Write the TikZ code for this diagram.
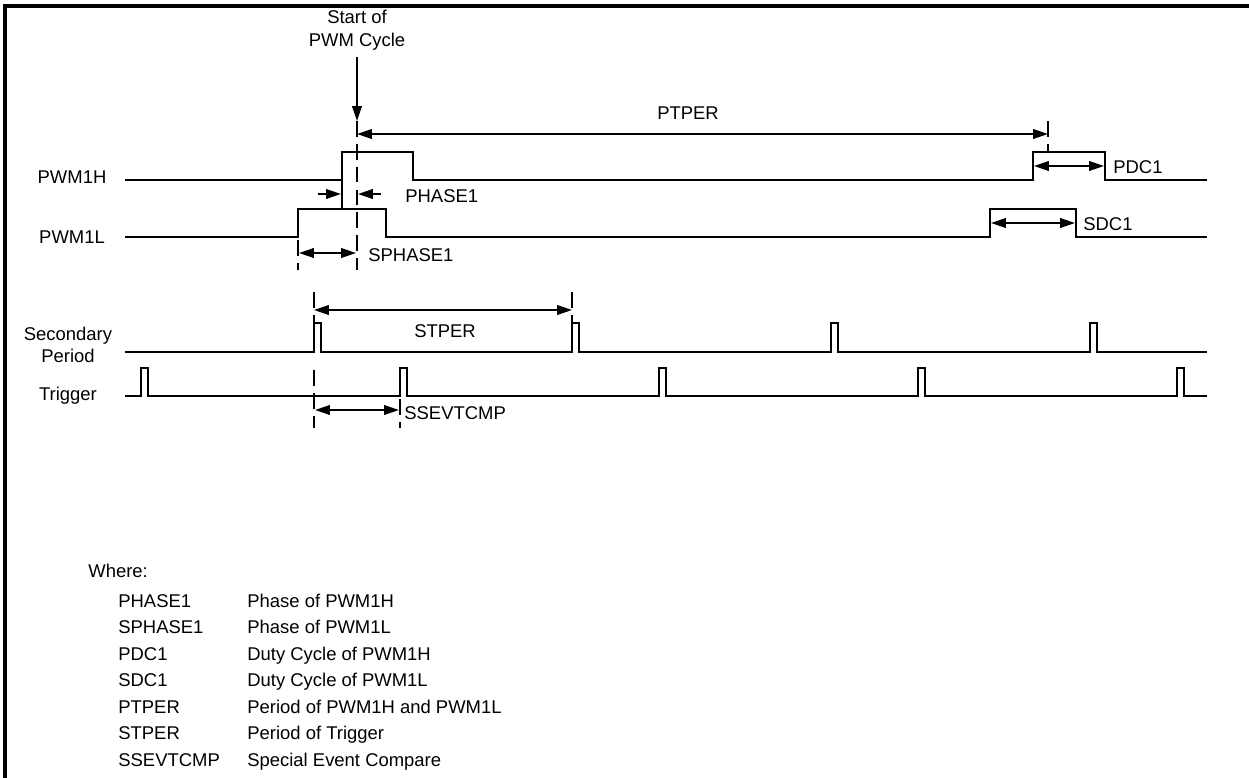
\documentclass[tikz,border=0pt]{standalone}
\usepackage{fontspec}
\setmainfont{Liberation Sans}
\usetikzlibrary{arrows.meta}
\begin{document}
\begin{tikzpicture}[x=0.02cm,y=-0.02cm,
  sig/.style={line width=1.5pt, line join=miter},
  dim/.style={line width=1pt, {Triangle[length=8.5pt,width=5.5pt]}-{Triangle[length=8.5pt,width=5.5pt]}},
  dimr/.style={line width=1pt, -{Triangle[length=8.5pt,width=5.5pt]}},
  guide/.style={line width=1pt, dash pattern=on 9pt off 4pt},
  lbl/.style={font=\fontsize{10.5pt}{12.8pt}\selectfont, inner sep=0pt},
]
\useasboundingbox (0,0) rectangle (1249,778);
\draw[line width=2pt] (1249,6) -- (5,6) -- (5,778);

% Start of PWM cycle
\node[lbl, align=center] (start) at (357,30) {Start of\\PWM Cycle};
\coordinate (st0) at (357,57);
\coordinate (st1) at (357,121);
\draw[dimr] (st0) -- (st1);

% PTPER
\coordinate (pt1) at (357,134);
\coordinate (pt2) at (1048,134);
\draw[dim] (pt1) -- (pt2);
\node[lbl] (ptper) at (688,113) {PTPER};
\draw[guide] (357,121) -- (357,270);
\draw[guide] (1048,121) -- (1048,152);

% PWM1H
\node[lbl] (h) at (72,177) {PWM1H};
\draw[sig] (125,180) -- (342,180) -- (342,152) -- (413,152) -- (413,180) -- (1033,180) -- (1033,152) -- (1105,152) -- (1105,180) -- (1207,180);
\draw[line width=1pt] (342,180) -- (342,209);

% PHASE1
\coordinate (ph1a) at (318,194);
\coordinate (ph1b) at (341,194);
\coordinate (ph2a) at (381,194);
\coordinate (ph2b) at (358,194);
\draw[dimr] (ph1a) -- (ph1b);
\draw[dimr] (ph2a) -- (ph2b);
\node[lbl, anchor=west] (phase) at (405,196) {PHASE1};

% PDC1
\coordinate (pd1) at (1034,166);
\coordinate (pd2) at (1104,166);
\draw[dim] (pd1) -- (pd2);
\node[lbl, anchor=west] (pdc) at (1113,167) {PDC1};

% PWM1L
\node[lbl] (l) at (72,237) {PWM1L};
\draw[sig] (125,237) -- (298,237) -- (298,209) -- (386,209) -- (386,237) -- (990,237) -- (990,209) -- (1076,209) -- (1076,237) -- (1207,237);

% SDC1
\coordinate (sd1) at (991,223);
\coordinate (sd2) at (1075,223);
\draw[dim] (sd1) -- (sd2);
\node[lbl, anchor=west] (sdc) at (1083,224) {SDC1};

% SPHASE1
\draw[guide] (298,240) -- (298,270);
\coordinate (sp1) at (299,253);
\coordinate (sp2) at (356,253);
\draw[dim] (sp1) -- (sp2);
\node[lbl, anchor=west] (sphase) at (368,255) {SPHASE1};

% STPER
\draw[guide] (314,292) -- (314,322);
\draw[guide] (572,292) -- (572,322);
\coordinate (stp1) at (314,310);
\coordinate (stp2) at (572,310);
\draw[dim] (stp1) -- (stp2);
\node[lbl] (stper) at (445,331) {STPER};

% Secondary Period
\node[lbl, align=center] (sec) at (68,345) {Secondary\\Period};
\draw[sig] (125,352) foreach \p in {314,572,831,1090} { -- (\p,352) -- (\p,323) -- (\p+7,323) -- (\p+7,352) } -- (1207,352);

% Trigger
\node[lbl] (trg) at (68,396) {Trigger};
\draw[sig] (125,396) foreach \p in {141,400,659,918,1177} { -- (\p,396) -- (\p,368) -- (\p+7,368) -- (\p+7,396) } -- (1207,396);

% SSEVTCMP
\draw[guide] (314,370) -- (314,428);
\draw[guide] (400,399) -- (400,428);
\coordinate (ss1) at (315,410);
\coordinate (ss2) at (399,410);
\draw[dim] (ss1) -- (ss2);
\node[lbl, anchor=west] (ssev) at (404,413) {SSEVTCMP};

% Legend
\node[lbl, anchor=base west] (where) at (88,577) {Where:};
\foreach \a/\b/\yy [count=\i] in {PHASE1/Phase of PWM1H/607, SPHASE1/Phase of PWM1L/633.5, PDC1/Duty Cycle of PWM1H/660, SDC1/Duty Cycle of PWM1L/686.5, PTPER/Period of PWM1H and PWM1L/713, STPER/Period of Trigger/739.5, SSEVTCMP/Special Event Compare/766} {
  \node[lbl, anchor=base west] (k\i) at (118,\yy) {\a};
  \node[lbl, anchor=base west] (d\i) at (247,\yy) {\b};
}
\end{tikzpicture}
\end{document}
